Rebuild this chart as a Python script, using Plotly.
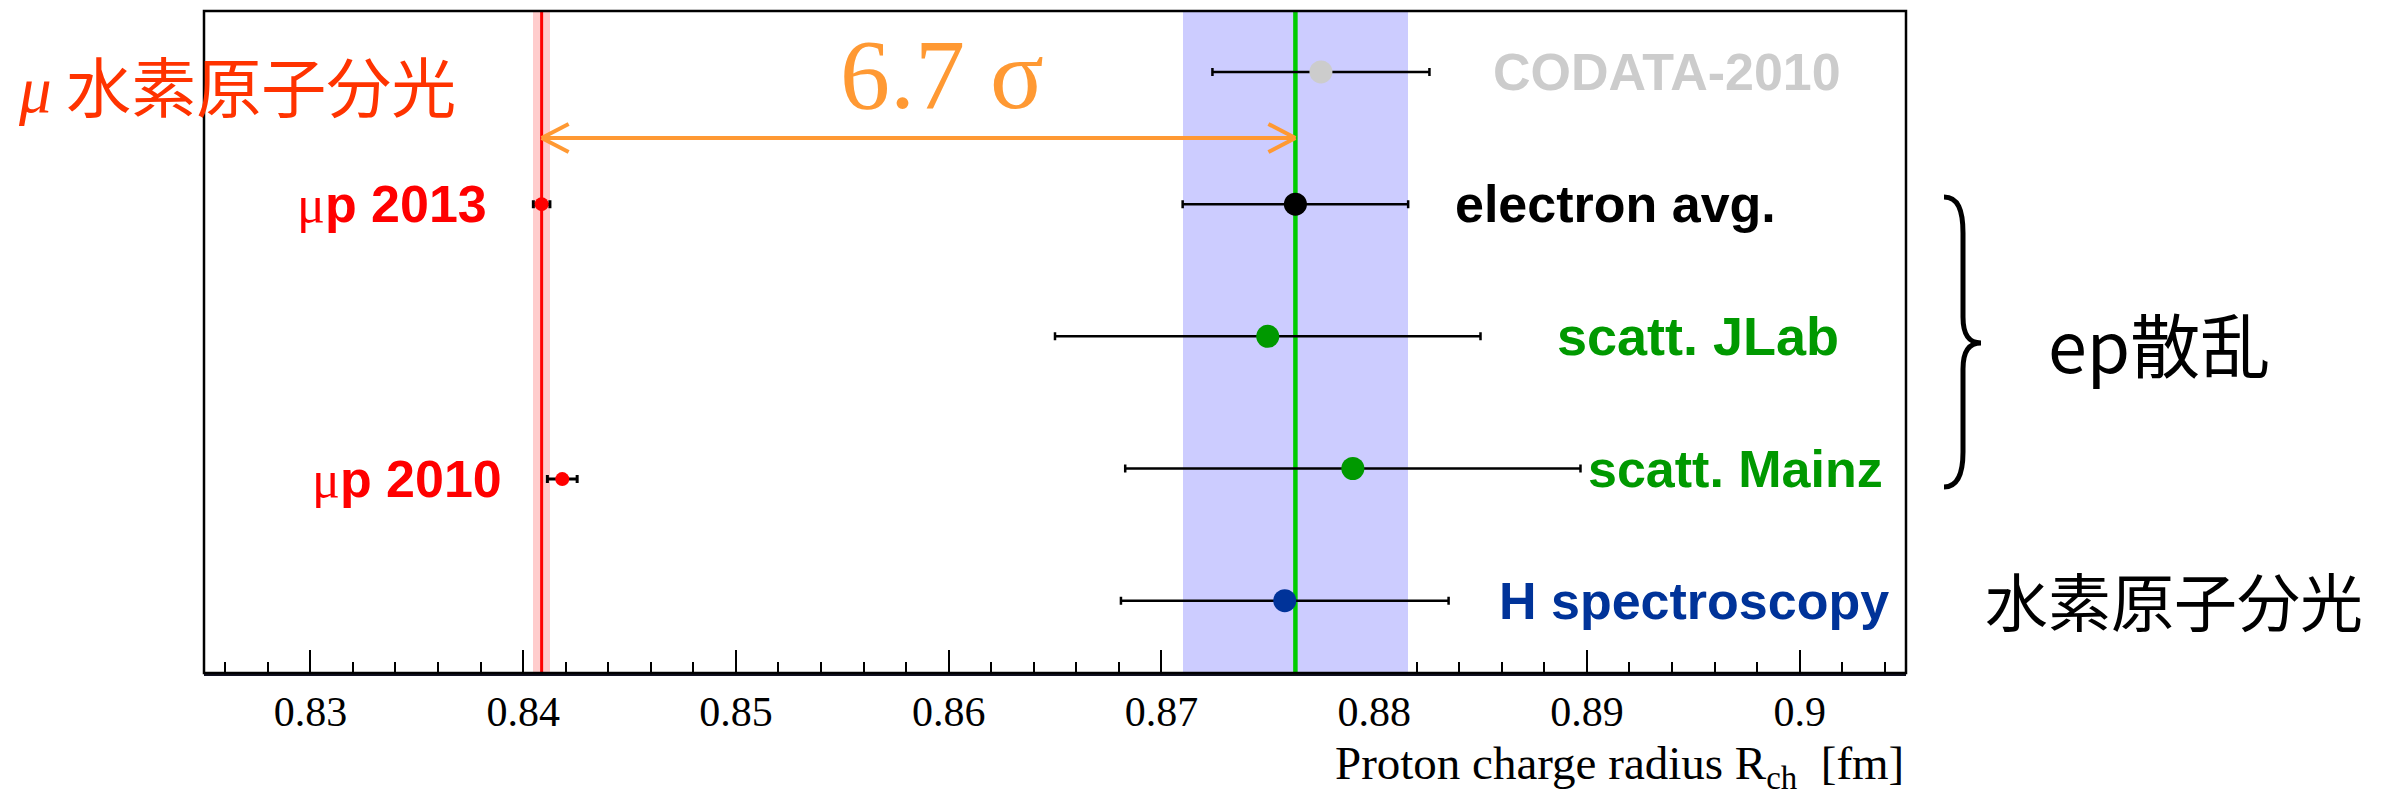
import plotly.graph_objects as go

# ---- data: proton charge radius determinations (fm) ----
labels = ["H spectroscopy", "scatt. Mainz", "scatt. JLab", "electron avg.", "CODATA-2010"]
rows = [1, 2, 3, 4, 5]
radius = [0.8758, 0.8790, 0.8750, 0.8763, 0.8775]
err_plus = [0.0077, 0.0107, 0.0100, 0.0053, 0.0051]
err_minus = [0.0077, 0.0107, 0.0100, 0.0053, 0.0051]

muonic_labels = ["μp 2013", "μp 2010"]
muonic_rows = [4, 1.92]
muonic_radius = [0.84087, 0.84184]
muonic_err = [0.00039, 0.00070]

sigma_text = "6.7 σ"
tick_vals = [0.83, 0.84, 0.85, 0.86, 0.87, 0.88, 0.89, 0.90]
tick_text = ["0.83", "0.84", "0.85", "0.86", "0.87", "0.88", "0.89", "0.9"]

# ---- styling ----
label_colors = ["#003399", "#009900", "#009900", "#000000", "#cccccc"]
marker_colors = ["#003399", "#009900", "#009900", "#000000", "#cccccc"]
X_RANGE = [0.825, 0.905]
Y_RANGE = [0.453, 5.461]
W, H = 2387, 803
PLOT_L, PLOT_R, PLOT_T, PLOT_B = 204, 1906, 11, 673


def fx(px):
    return (px - PLOT_L) / (PLOT_R - PLOT_L)


def fy(py):
    return (PLOT_B - py) / (PLOT_B - PLOT_T)


e_avg = radius[labels.index("electron avg.")]
e_err = err_plus[labels.index("electron avg.")]
mu13 = muonic_radius[0]
mu13_err = muonic_err[0]

fig = go.Figure()

# uncertainty bands spanning the full height
fig.add_trace(go.Bar(x=[e_avg], y=[Y_RANGE[1] - Y_RANGE[0]], base=[Y_RANGE[0]],
                     width=[2 * e_err], marker=dict(color="#ccccff", line=dict(width=0)),
                     hoverinfo="skip", showlegend=False))
fig.add_trace(go.Bar(x=[mu13], y=[Y_RANGE[1] - Y_RANGE[0]], base=[Y_RANGE[0]],
                     width=[2 * mu13_err], marker=dict(color="#ffcccc", line=dict(width=0)),
                     hoverinfo="skip", showlegend=False))

# central value lines
fig.add_trace(go.Scatter(x=[e_avg, e_avg], y=Y_RANGE, mode="lines",
                         line=dict(color="#00cc00", width=4.5), showlegend=False))
fig.add_trace(go.Scatter(x=[mu13, mu13], y=Y_RANGE, mode="lines",
                         line=dict(color="#ff0000", width=3), showlegend=False))

# electronic measurements
fig.add_trace(go.Scatter(
    x=radius, y=rows, mode="markers",
    marker=dict(color=marker_colors, size=23, line=dict(width=0)),
    error_x=dict(type="data", symmetric=False, array=err_plus, arrayminus=err_minus,
                 color="black", thickness=2.5, width=4),
    showlegend=False))

# muonic hydrogen measurements
fig.add_trace(go.Scatter(
    x=muonic_radius, y=muonic_rows, mode="markers",
    marker=dict(color="#ff0000", size=14, line=dict(width=0)),
    error_x=dict(type="data", array=muonic_err, color="black", thickness=3, width=4),
    showlegend=False))

annotations = []

# row labels
label_left_px = {"CODATA-2010": 1491, "electron avg.": 1453, "scatt. JLab": 1555,
                 "scatt. Mainz": 1586, "H spectroscopy": 1497}
label_size = {"CODATA-2010": 52, "electron avg.": 52, "scatt. JLab": 54,
              "scatt. Mainz": 52, "H spectroscopy": 52}
for lab, r, c in zip(labels, rows, label_colors):
    annotations.append(dict(
        x=fx(label_left_px[lab]), xref="paper", y=r, yref="y",
        xanchor="left", yanchor="middle", showarrow=False,
        text="<b>" + lab + "</b>",
        font=dict(family="Liberation Sans", size=label_size[lab], color=c)))

muonic_right_px = [489, 504]
for lab, r, rp in zip(muonic_labels, muonic_rows, muonic_right_px):
    annotations.append(dict(
        x=fx(rp), xref="paper", y=r, yref="y",
        xanchor="right", yanchor="middle", showarrow=False,
        text='<span style="font-family:Liberation Serif;font-weight:normal">'
             + lab[0] + "</span><b>" + lab[1:] + "</b>",
        font=dict(family="Liberation Sans", size=52, color="#ff0000")))

# group captions
annotations.append(dict(
    x=fx(16), xref="paper", y=fy(84), yref="paper", xanchor="left", yanchor="middle",
    showarrow=False,
    text='<span style="font-family:Liberation Serif"><i>μ</i></span> 水素原子分光',
    font=dict(family="Noto Sans CJK JP", size=65, color="#ff3300")))
annotations.append(dict(
    x=fx(2046), xref="paper", y=fy(342), yref="paper", xanchor="left", yanchor="middle",
    showarrow=False, text="ep散乱",
    font=dict(family="Noto Sans CJK JP", size=70, color="#000000")))
annotations.append(dict(
    x=fx(1983), xref="paper", y=fy(598), yref="paper", xanchor="left", yanchor="middle",
    showarrow=False, text="水素原子分光",
    font=dict(family="Noto Sans CJK JP", size=63, color="#000000")))

# discrepancy label
annotations.append(dict(
    x=fx(838), xref="paper", y=fy(74), yref="paper", xanchor="left", yanchor="middle",
    showarrow=False, text=sigma_text,
    font=dict(family="Liberation Serif", size=100, color="#ff9933")))

# axis title
annotations.append(dict(
    x=1.0, xref="paper", y=fy(766), yref="paper", xanchor="right", yanchor="middle",
    showarrow=False, text="Proton charge radius R<sub>ch</sub>  [fm]",
    font=dict(family="Liberation Serif", size=47, color="#000000")))

shapes = []

# double arrow between the muonic and electronic values
ARROW_ROW = 4.5
arrow_style = dict(color="#ff9933", width=4)
shapes.append(dict(type="line", xref="x", yref="y", x0=mu13, x1=e_avg,
                   y0=ARROW_ROW, y1=ARROW_ROW, line=arrow_style, layer="above"))
for anchor, dx in ((mu13, 27), (e_avg, -27)):
    for dy in (14, -14):
        shapes.append(dict(type="line", xref="x", yref="y",
                           xsizemode="pixel", xanchor=anchor, x0=0, x1=dx,
                           ysizemode="pixel", yanchor=ARROW_ROW, y0=0, y1=dy,
                           line=arrow_style, layer="above"))

# curly brace grouping the scattering results
brace_pts = [
    ("M", [(1944, 197)]),
    ("C", [(1958, 197), (1963, 210), (1963, 233)]),
    ("L", [(1963, 317)]),
    ("C", [(1963, 335), (1969, 343), (1981, 343)]),
    ("C", [(1969, 343), (1963, 351), (1963, 369)]),
    ("L", [(1963, 452)]),
    ("C", [(1963, 474), (1958, 487), (1944, 487)]),
]
path = " ".join(cmd + " " + " ".join(f"{fx(px):.5f},{fy(py):.5f}" for px, py in pts)
                for cmd, pts in brace_pts)
shapes.append(dict(type="path", xref="paper", yref="paper", path=path,
                   line=dict(color="black", width=5), layer="above"))

# plot frame
shapes.append(dict(type="rect", xref="paper", yref="paper", x0=0, x1=1, y0=0, y1=1,
                   line=dict(color="black", width=2.5), layer="above"))

fig.update_layout(
    width=W, height=H,
    margin=dict(l=PLOT_L, r=W - PLOT_R, t=PLOT_T, b=H - PLOT_B, pad=0),
    paper_bgcolor="white", plot_bgcolor="white",
    barmode="overlay", bargap=0,
    annotations=annotations, shapes=shapes,
    xaxis=dict(range=X_RANGE, showgrid=False, zeroline=False,
               showline=True, linecolor="#111122", linewidth=3, mirror=False,
               layer="below traces",
               tickmode="array", tickvals=tick_vals, ticktext=tick_text,
               ticks="inside", ticklen=23, tickwidth=2, tickcolor="black",
               tickfont=dict(family="Liberation Serif", size=42, color="black"),
               minor=dict(tickmode="linear", tick0=0.83, dtick=0.002,
                          ticks="inside", ticklen=11, tickwidth=2, tickcolor="black",
                          showgrid=False)),
    yaxis=dict(range=Y_RANGE, showgrid=False, zeroline=False, showline=False,
               showticklabels=False, ticks=""),
)

fig.write_html("out.html")
